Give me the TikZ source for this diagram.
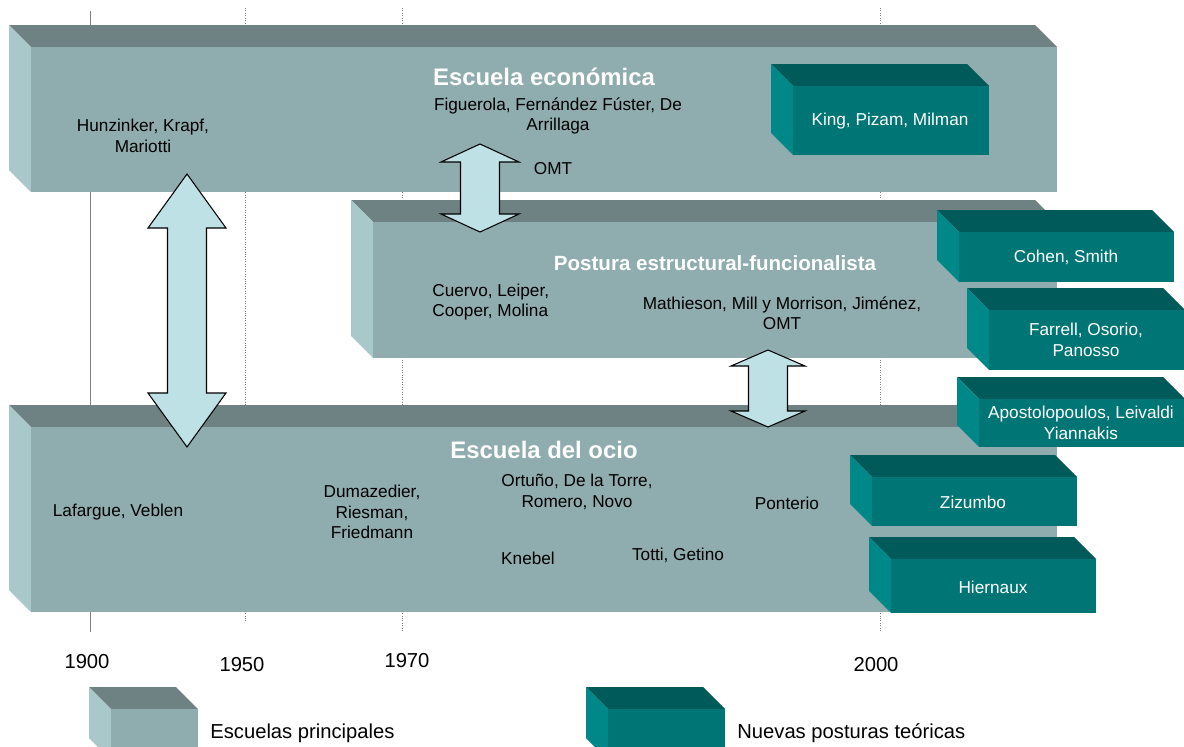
\documentclass[tikz,border=0pt]{standalone}
\usepackage{fontspec}
\setmainfont{Liberation Sans}

\definecolor{schoolfront}{HTML}{8FACAE}
\definecolor{schooltop}{HTML}{6E8283}
\definecolor{schoolside}{HTML}{A9C8CA}
\definecolor{newfront}{HTML}{007575}
\definecolor{newtop}{HTML}{005A5A}
\definecolor{newside}{HTML}{008787}
\definecolor{arrowfill}{HTML}{BDE1E5}

% front face from (#1,#2) to (#3,#4), #5 = colour prefix (school/new)
\newcommand{\slab}[5]{%
    \fill[#5top] (#1-22,#2-22) -- (#3-22,#2-22) -- (#3,#2) -- (#1,#2) -- cycle;
    \fill[#5side] (#1-22,#2-22) -- (#1,#2) -- (#1,#4) -- (#1-22,#4-22) -- cycle;
    \fill[#5front] (#1,#2) rectangle (#3,#4);
}
% double block arrow: centre x, top tip, bottom tip, head length, head half width
\newcommand{\twoway}[5]{%
    \draw[blockarrow] (#1,#2) -- (#1+#5,#2+#4) -- (#1+19.5,#2+#4) -- (#1+19.5,#3-#4)
        -- (#1+#5,#3-#4) -- (#1,#3) -- (#1-#5,#3-#4) -- (#1-19.5,#3-#4)
        -- (#1-19.5,#2+#4) -- (#1-#5,#2+#4) -- cycle;
}

\tikzset{
    names/.style={font=\fontsize{9.8}{11.6}\selectfont, align=center, inner sep=0pt},
    school/.style={font=\fontsize{13.6}{15}\selectfont\bfseries, text=white, inner sep=0pt},
    newnames/.style={font=\fontsize{9.8}{11.8}\selectfont, text=white, align=center, inner sep=0pt},
    year/.style={font=\fontsize{11.5}{13}\selectfont, inner sep=0pt},
    gridline/.style={gray, line width=0.4pt},
    blockarrow/.style={fill=arrowfill, draw=black, line width=0.6pt, line join=miter},
}

\begin{document}
\begin{tikzpicture}[x=0.02cm, y=-0.02cm]
            \useasboundingbox (0,0) rectangle (1184,747);
            \clip (0,0) rectangle (1184,747);

            % time lines
            \draw[gridline] (90,11) -- (90,632);
            \draw[gridline, densely dotted] (245,8) -- (245,622);
            \draw[gridline, densely dotted] (402,8) -- (402,632);
            \draw[gridline, densely dotted] (880,8) -- (880,632);
            \node[year] (y1900) at (87,662) {1900};
            \node[year] (y1950) at (242,665) {1950};
            \node[year] (y1970) at (407,661) {1970};
            \node[year] (y2000) at (876,665) {2000};

            % main schools
            \slab{31}{47}{1057}{192}{school}
            \slab{373}{222}{1057}{358}{school}
            \slab{31}{427}{1057}{612}{school}

            % Escuela economica
            \node[school] (econ) at (544,77) {Escuela económica};
            \node[names] (hunz) at (143,136) {Hunzinker, Krapf,\\Mariotti};
            \node[names] (fig) at (558,116) {Figuerola, Fernández Fúster, De\\Arrillaga};
            \node[names] (omt1) at (553,169) {OMT};

            % Postura estructural-funcionalista
            \node[school, font=\fontsize{11.7}{14}\selectfont\bfseries] (estr) at (715,263) {Postura estructural-funcionalista};
            \node[names, align=left, anchor=west] (cuer) at (432,302) {Cuervo, Leiper,\\Cooper, Molina};
            \node[names] (math) at (782,313) {Mathieson, Mill y Morrison, Jiménez,\\OMT};

            % Escuela del ocio
            \node[school] (ocio) at (544,450) {Escuela del ocio};
            \node[names] (laf) at (118,512) {Lafargue, Veblen};
            \node[names] (dum) at (372,512) {Dumazedier,\\Riesman,\\Friedmann};
            \node[names] (ort) at (577,492) {Ortuño, De la Torre,\\Romero, Novo};
            \node[names] (pont) at (787,503) {Ponterio};
            \node[names] (kne) at (528,558) {Knebel};
            \node[names] (tot) at (678,555) {Totti, Getino};

            % links between schools
            \twoway{187}{174}{447}{54}{39}
            \twoway{480}{144}{232}{18}{39}
            \twoway{768}{350}{427}{16}{37}

            % new theoretical positions
            \slab{793}{86}{989}{155}{new}
            \node[newnames] (king) at (890,121) {King, Pizam, Milman};
            \slab{959}{232}{1174}{282}{new}
            \node[newnames] (coh) at (1066,257) {Cohen, Smith};
            \slab{989}{310}{1185}{370}{new}
            \node[newnames] (far) at (1086,340) {Farrell, Osorio,\\Panosso};
            \slab{979}{399}{1185}{447}{new}
            \node[newnames] (apo) at (1081,423) {Apostolopoulos, Leivaldi\\Yiannakis};
            \slab{872}{477}{1077}{526}{new}
            \node[newnames] (ziz) at (973,502) {Zizumbo};
            \slab{891}{559}{1096}{613}{new}
            \node[newnames] (hier) at (993,587) {Hiernaux};

            % legend
            \slab{111}{709}{198}{760}{school}
            \node[year, anchor=west] (legschool) at (210,733) {Escuelas principales};
            \slab{608}{709}{725}{760}{new}
            \node[year, anchor=west] (legnew) at (737,733) {Nuevas posturas teóricas};
        \end{tikzpicture}
\end{document}
